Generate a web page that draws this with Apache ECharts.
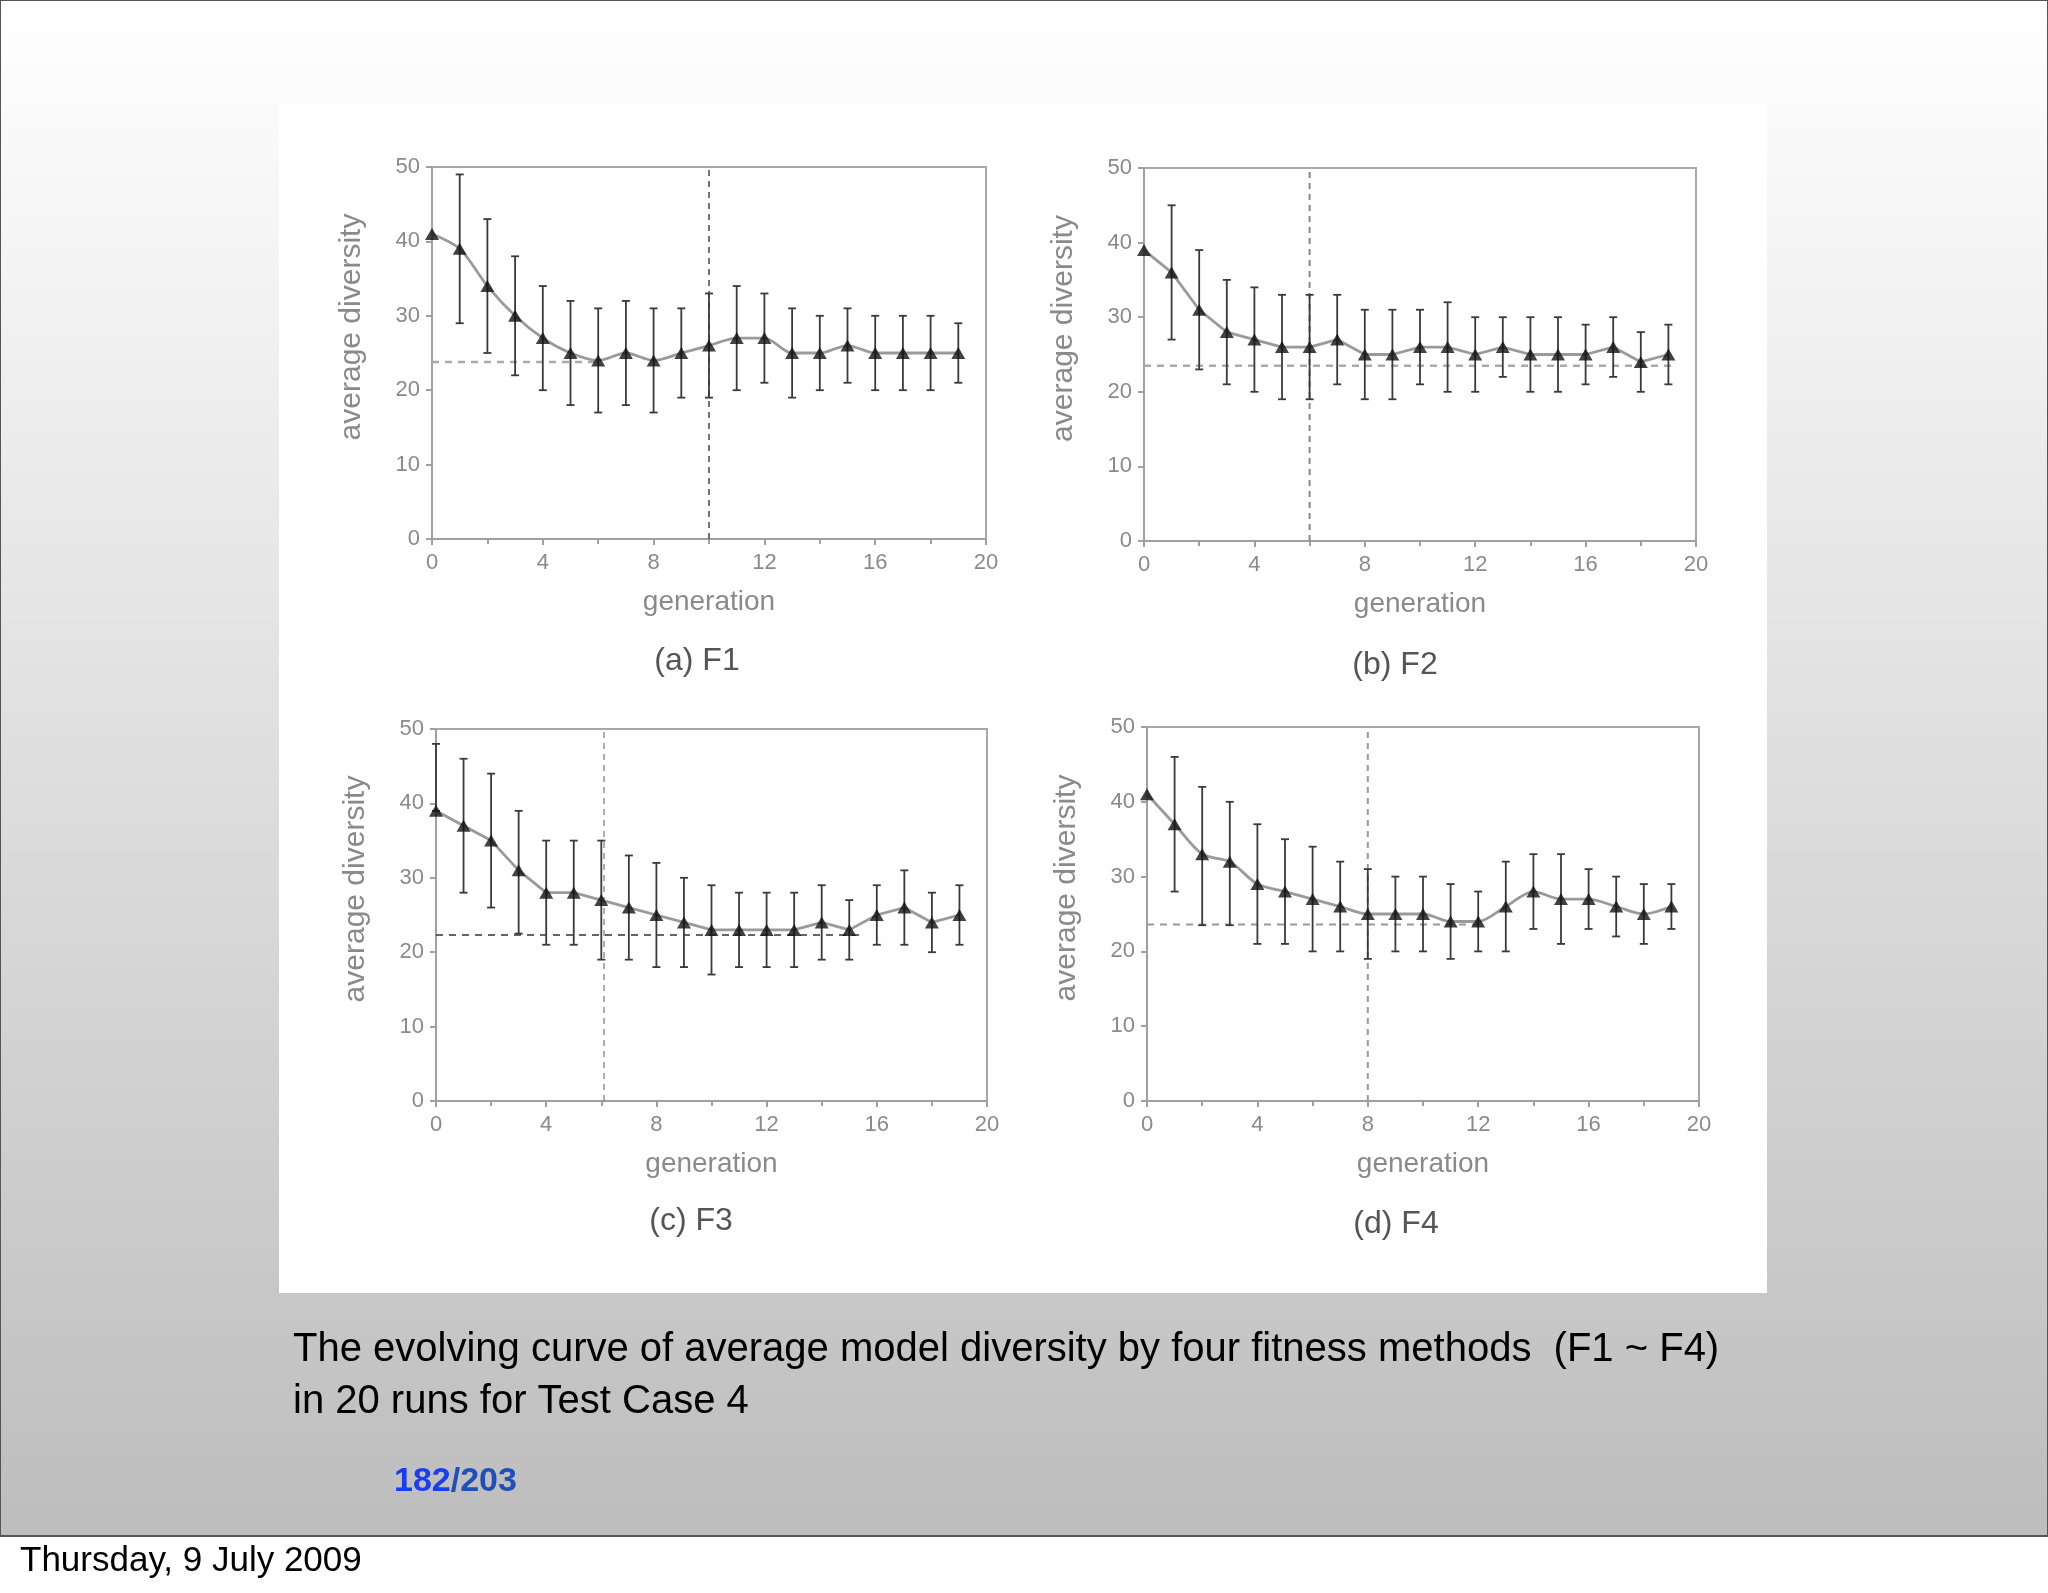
<!DOCTYPE html>
<html>
<head>
<meta charset="utf-8">
<script src="https://cdn.jsdelivr.net/npm/echarts@6/dist/echarts.min.js"></script>
<style>
html,body{margin:0;padding:0;background:#fff;}
#c{width:2048px;height:1593px;}
</style>
</head>
<body>
<div id="c"></div>
<script>
// ---------- data ----------
const generations = [0,1,2,3,4,5,6,7,8,9,10,11,12,13,14,15,16,17,18,19];

const meanF1  = [41,39,34,30,27,25,24,25,24,25,26,27,27,25,25,26,25,25,25,25];
const upperF1 = [null,49,43,38,34,32,31,32,31,31,33,34,33,31,30,31,30,30,30,29];
const lowerF1 = [null,29,25,22,20,18,17,18,17,19,19,20,21,19,20,21,20,20,20,21];

const meanF2  = [39,36,31,28,27,26,26,27,25,25,26,26,25,26,25,25,25,26,24,25];
const upperF2 = [null,45,39,35,34,33,33,33,31,31,31,32,30,30,30,30,29,30,28,29];
const lowerF2 = [null,27,23,21,20,19,19,21,19,19,21,20,20,22,20,20,21,22,20,21];

const meanF3  = [39,37,35,31,28,28,27,26,25,24,23,23,23,23,24,23,25,26,24,25];
const upperF3 = [48,46,44,39,35,35,35,33,32,30,29,28,28,28,29,27,29,31,28,29];
const lowerF3 = [39,28,26,22.5,21,21,19,19,18,18,17,18,18,18,19,19,21,21,20,21];

const meanF4  = [41,37,33,32,29,28,27,26,25,25,25,24,24,26,28,27,27,26,25,26];
const upperF4 = [null,46,42,40,37,35,34,32,31,30,30,29,28,32,33,33,31,30,29,29];
const lowerF4 = [null,28,23.5,23.5,21,21,20,20,19,20,20,19,20,20,23,21,23,22,21,23];

// reference lines
const hRefF1 = [[0,23.8],[6,23.8]];   const vRefF1 = [[10,0],[10,50]];
const hRefF2 = [[0,23.5],[19.2,23.5]]; const vRefF2 = [[6,0],[6,50]];
const hRefF3 = [[0,22.3],[15.5,22.3]]; const vRefF3 = [[6.1,0],[6.1,50]];
const hRefF4 = [[0,23.6],[12,23.6]];  const vRefF4 = [[8,0],[8,50]];

const xTicks = {min:0, max:20, interval:4};
const yTicks = {min:0, max:50, interval:10};
const panelTitles = ['(a) F1','(b) F2','(c) F3','(d) F4'];
const yName = 'average diversity';
const xName = 'generation';

// ---------- layout ----------
const grids = [
  {left:432, top:167, width:554, height:372},
  {left:1144, top:168, width:552, height:373},
  {left:436, top:729, width:551, height:372},
  {left:1147, top:727, width:552, height:374}
];
const FONT = '"Liberation Sans", Arial, Helvetica, sans-serif';
const panels = [
  {mean:meanF1, up:upperF1, lo:lowerF1, h:hRefF1, v:vRefF1, smooth:0.3, hc:'#aaaaaa', vc:'#444444', hw:2.5, vw:1.5},
  {mean:meanF2, up:upperF2, lo:lowerF2, h:hRefF2, v:vRefF2, smooth:false, hc:'#aaaaaa', vc:'#888888', hw:2.5, vw:2},
  {mean:meanF3, up:upperF3, lo:lowerF3, h:hRefF3, v:vRefF3, smooth:false, hc:'#333333', vc:'#777777', hw:1.5, vw:1.2},
  {mean:meanF4, up:upperF4, lo:lowerF4, h:hRefF4, v:vRefF4, smooth:0.3, hc:'#999999', vc:'#999999', hw:2, vw:2}
];

function errRender(params, api){
  const x = api.value(0), lo = api.value(1), hi = api.value(2);
  const a = api.coord([x, hi]);
  const b = api.coord([x, lo]);
  const w = 4;
  const st = {stroke:'#3a3a3a', lineWidth:1.8};
  return {type:'group', children:[
    {type:'line', shape:{x1:a[0], y1:a[1], x2:b[0], y2:b[1]}, style:st},
    {type:'line', shape:{x1:a[0]-w, y1:a[1], x2:a[0]+w, y2:a[1]}, style:st},
    {type:'line', shape:{x1:b[0]-w, y1:b[1], x2:b[0]+w, y2:b[1]}, style:st}
  ]};
}

const option = {
  animation:false,
  backgroundColor:'#ffffff',
  grid: grids.map(g => Object.assign({show:true, borderColor:'#a8a8a8', borderWidth:2, backgroundColor:'rgba(0,0,0,0)'}, g)),
  xAxis: grids.map((g,i) => ({
    gridIndex:i, type:'value', min:xTicks.min, max:xTicks.max, interval:xTicks.interval,
    name:xName, nameLocation:'middle', nameGap:49,
    nameTextStyle:{color:'#8a8a8a', fontSize:28, fontFamily:FONT},
    axisLine:{show:true, onZero:false, lineStyle:{color:'#a0a0a0', width:2}},
    axisTick:{show:true, inside:false, length:6, lineStyle:{color:'#a0a0a0', width:2}},
    minorTick:{show:true, splitNumber:2, length:5, lineStyle:{color:'#a0a0a0', width:2}},
    axisLabel:{color:'#8a8a8a', fontSize:22, fontFamily:FONT, margin:13},
    splitLine:{show:false}
  })),
  yAxis: grids.map((g,i) => ({
    gridIndex:i, type:'value', min:yTicks.min, max:yTicks.max, interval:yTicks.interval,
    name:yName, nameLocation:'middle', nameGap:65, nameRotate:90,
    nameTextStyle:{color:'#8a8a8a', fontSize:30, fontFamily:FONT, padding:[0,0,0,52]},
    axisLine:{show:true, onZero:false, lineStyle:{color:'#a0a0a0', width:2}},
    axisTick:{show:true, inside:false, length:6, lineStyle:{color:'#a0a0a0', width:2}},
    axisLabel:{color:'#8a8a8a', fontSize:22, fontFamily:FONT, margin:12},
    splitLine:{show:false}
  })),
  graphic: [
    {type:'rect', z:-100, silent:true, shape:{x:0, y:0, width:2048, height:1536},
      style:{fill:{type:'linear', x:0, y:0, x2:0, y2:1, colorStops:[{offset:0, color:'#ffffff'},{offset:1, color:'#bdbdbd'}]}, stroke:'#555555', lineWidth:2}},
    {type:'rect', z:-90, silent:true, shape:{x:279, y:103, width:1488, height:1190}, style:{fill:'#ffffff'}},
    {type:'text', z:10, x:697, y:661, style:{text:panelTitles[0], font:'32px '+FONT, fill:'#555555', align:'center', verticalAlign:'middle', textAlign:'center', textVerticalAlign:'middle'}},
    {type:'text', z:10, x:1395, y:665, style:{text:panelTitles[1], font:'32px '+FONT, fill:'#555555', align:'center', verticalAlign:'middle', textAlign:'center', textVerticalAlign:'middle'}},
    {type:'text', z:10, x:691, y:1221, style:{text:panelTitles[2], font:'32px '+FONT, fill:'#555555', align:'center', verticalAlign:'middle', textAlign:'center', textVerticalAlign:'middle'}},
    {type:'text', z:10, x:1396, y:1224, style:{text:panelTitles[3], font:'32px '+FONT, fill:'#555555', align:'center', verticalAlign:'middle', textAlign:'center', textVerticalAlign:'middle'}},
    {type:'text', z:10, x:293, y:1350, style:{text:'The evolving curve of average model diversity by four fitness methods  (F1 ~ F4)', font:'40px '+FONT, fill:'#000000', align:'left', verticalAlign:'middle', textAlign:'left', textVerticalAlign:'middle'}},
    {type:'text', z:10, x:293, y:1402, style:{text:'in 20 runs for Test Case 4', font:'40px '+FONT, fill:'#000000', align:'left', verticalAlign:'middle', textAlign:'left', textVerticalAlign:'middle'}},
    {type:'text', z:10, x:394, y:1482, style:{text:'{a|182}{b|/203}', align:'left', verticalAlign:'middle', textAlign:'left', textVerticalAlign:'middle',
      rich:{a:{fill:'#1a3df0', color:'#1a3df0', font:'bold 34px '+FONT}, b:{fill:'#1f4fb8', color:'#1f4fb8', font:'bold 34px '+FONT}}}},
    {type:'text', z:10, x:20, y:1561, style:{text:'Thursday, 9 July 2009', font:'35px '+FONT, fill:'#000000', align:'left', verticalAlign:'middle', textAlign:'left', textVerticalAlign:'middle'}}
  ],
  series: []
};

panels.forEach((p,i) => {
  option.series.push({
    type:'line', xAxisIndex:i, yAxisIndex:i, data:p.h, symbol:'none', silent:true, z:1,
    lineStyle:{color:p.hc, width:p.hw, type:[7,6]}
  });
  option.series.push({
    type:'line', xAxisIndex:i, yAxisIndex:i, data:p.v, symbol:'none', silent:true, z:1,
    lineStyle:{color:p.vc, width:p.vw, type:[6,5]}
  });
  option.series.push({
    type:'line', xAxisIndex:i, yAxisIndex:i, smooth:p.smooth, z:2,
    data: generations.map((g,k) => [g, p.mean[k]]),
    symbol:'none', lineStyle:{color:'#9a9a9a', width:2.8}
  });
  option.series.push({
    type:'custom', xAxisIndex:i, yAxisIndex:i, z:3, renderItem:errRender,
    encode:{x:0, y:[1,2]},
    data: generations.map((g,k) => [g, p.lo[k], p.up[k]]).filter(d => d[1] != null && d[2] != null)
  });
  option.series.push({
    type:'scatter', xAxisIndex:i, yAxisIndex:i, z:4,
    data: generations.map((g,k) => [g, p.mean[k]]),
    symbol:'triangle', symbolSize:[14,12], itemStyle:{color:'#111111'}
  });
});

const chart = echarts.init(document.getElementById('c'), null, {renderer:'canvas'});
chart.setOption(option);
</script>
</body>
</html>
